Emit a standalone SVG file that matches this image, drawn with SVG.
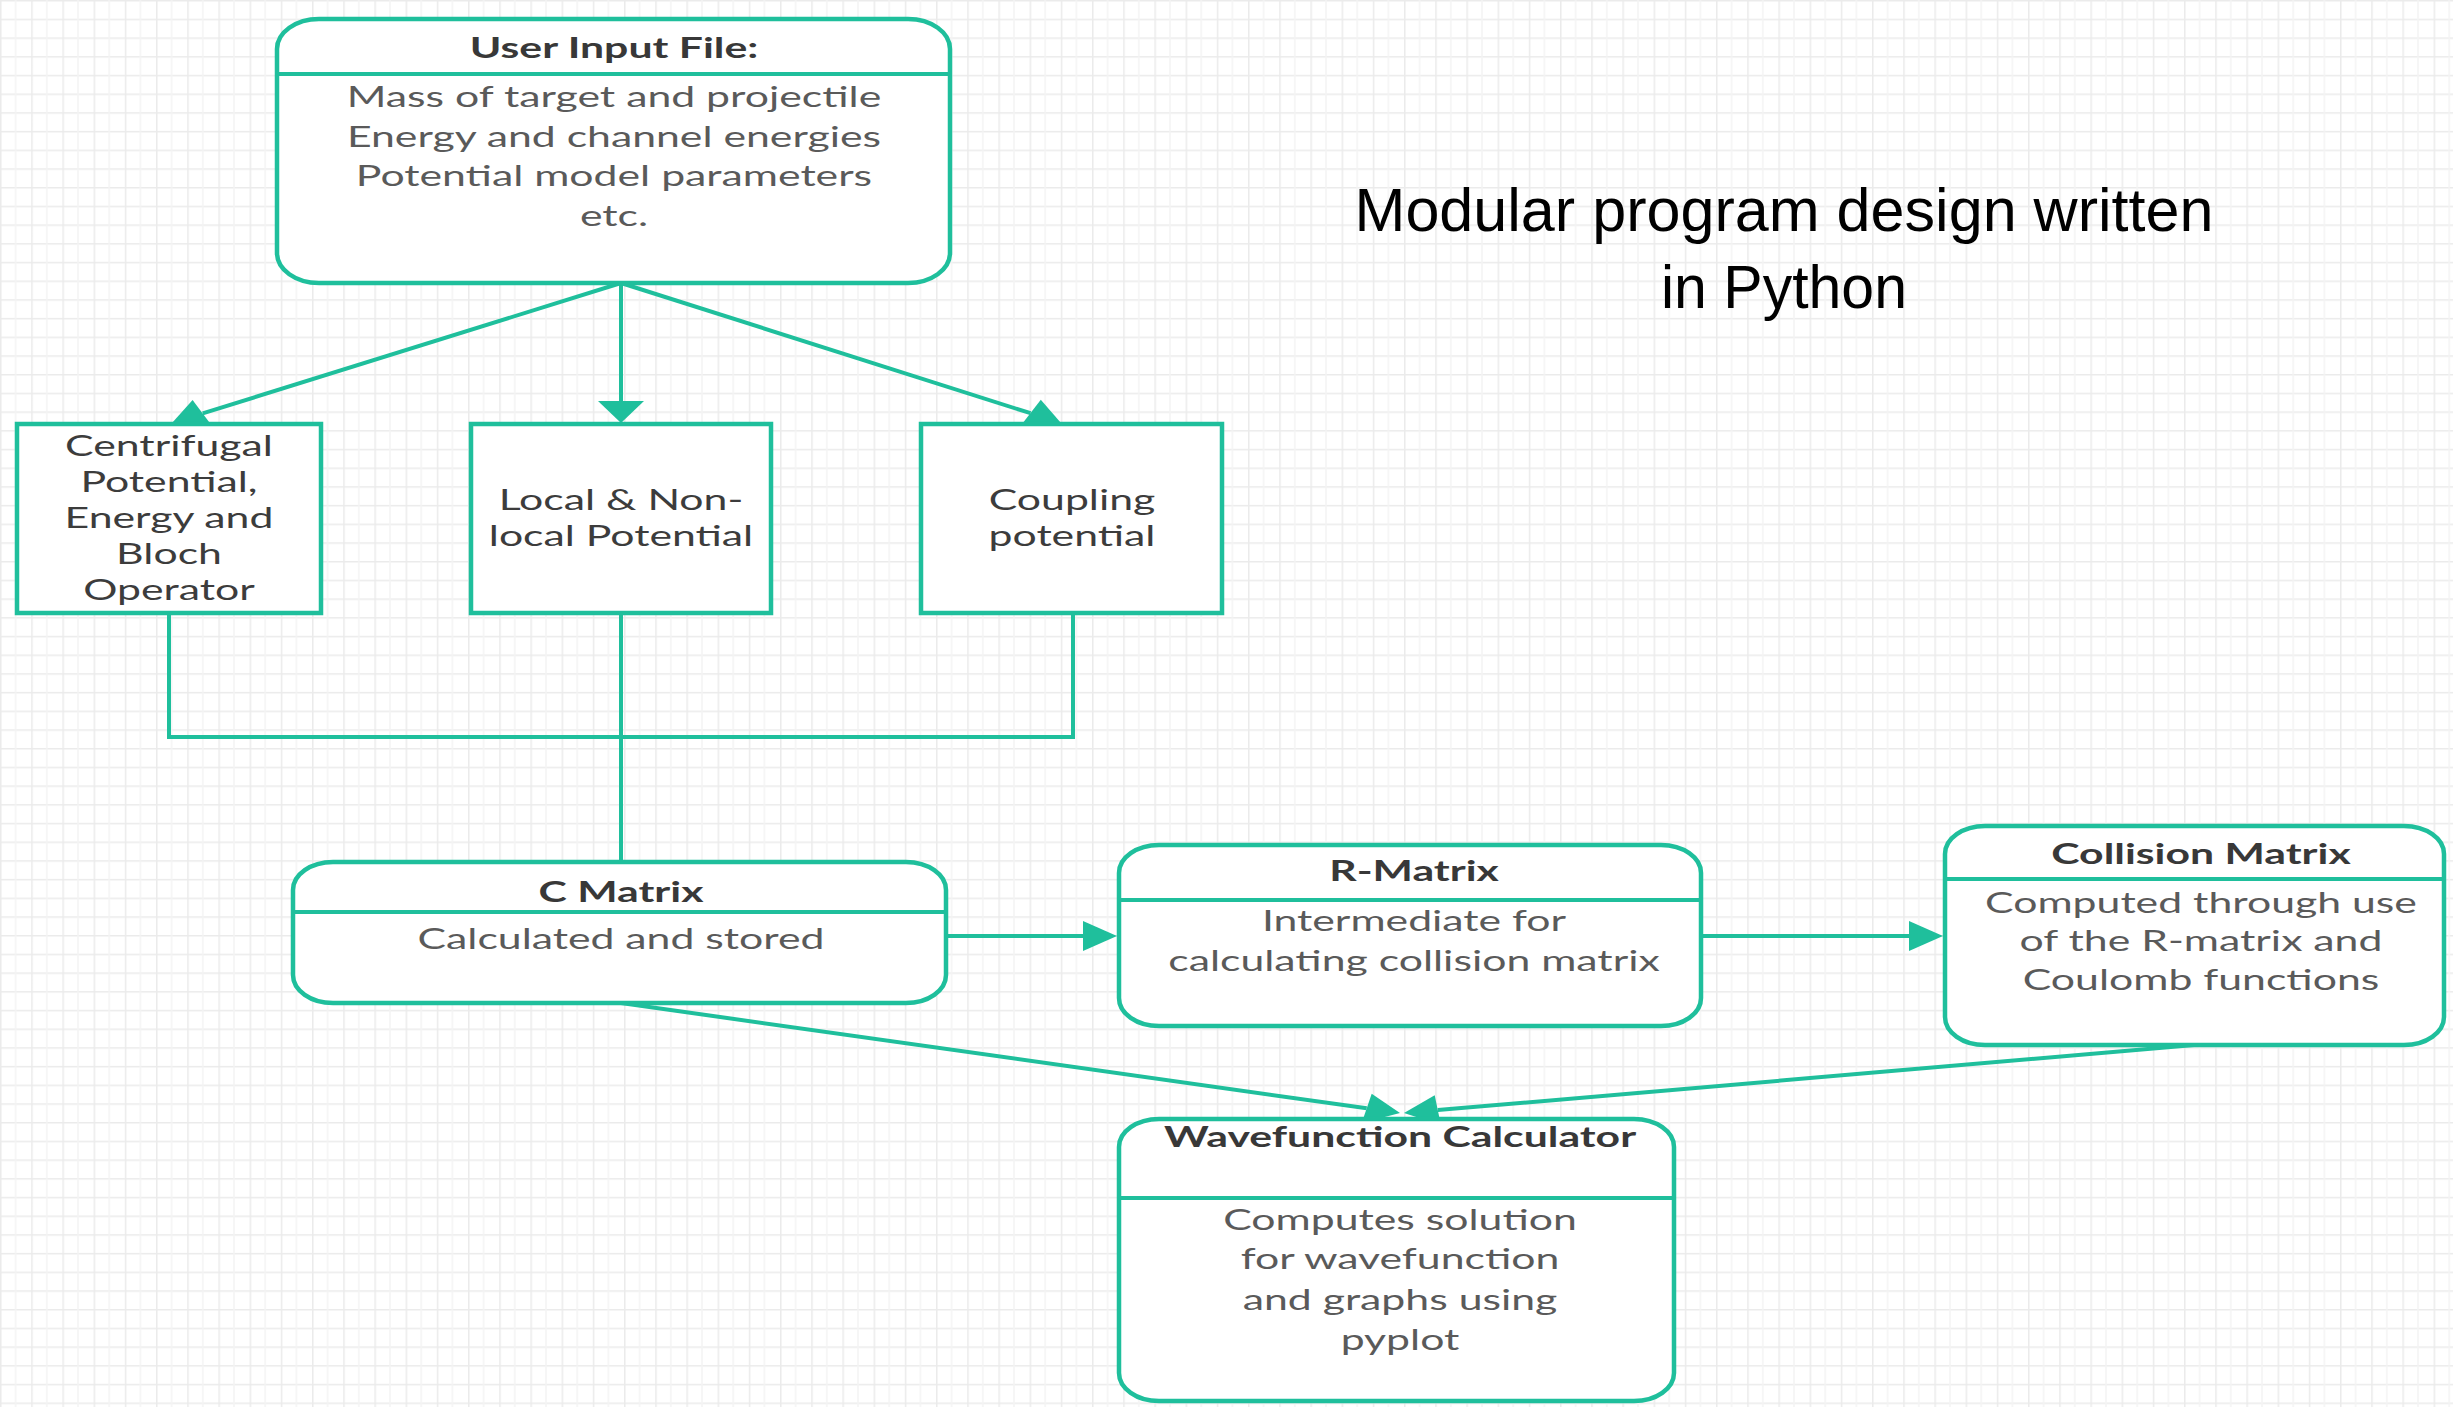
<svg xmlns="http://www.w3.org/2000/svg" width="2453" height="1407" viewBox="0 0 2453 1407">
<defs>
<pattern id="grid" width="31.2" height="18.7" patternUnits="userSpaceOnUse">
<rect width="31.2" height="18.7" fill="#ffffff"/>
<path d="M0 0.5H31.2M0.5 0V18.7" stroke="#ebebeb" stroke-width="2" fill="none"/>
<path d="M15.6 0V18.7" stroke="#f4f4f4" stroke-width="1.5" fill="none"/>
</pattern>
<style>
.box{fill:#ffffff;stroke:#1fbf9c;stroke-width:4.5}
.div{stroke:#1fbf9c;stroke-width:4}
.ln{stroke:#1fbf9c;stroke-width:4;fill:none}
.ah{fill:#1fbf9c;stroke:none}
.t{font-family:Lato,"Open Sans","DejaVu Sans",sans-serif;font-size:28.5px;text-anchor:middle}
.ttl{font-weight:700;fill:#383838}
.body{fill:#5a5a5a}
.dark{fill:#3c3c3c}
.head{font-family:"Liberation Sans",Arial,sans-serif;font-size:61px;fill:#000000;text-anchor:middle}
</style>
</defs>
<rect width="2453" height="1407" fill="url(#grid)"/>

<g id="connectors">
<line class="ln" x1="621" y1="283" x2="202.7" y2="413.4"/>
<polygon class="ah" points="172,423 192.6,399.9 212.8,426.9"/>
<line class="ln" x1="621" y1="283" x2="621" y2="402"/>
<polygon class="ah" points="621,423 598,401 644,401"/>
<line class="ln" x1="621" y1="283" x2="1030.5" y2="413.2"/>
<polygon class="ah" points="1061,423 1020.1,426.6 1040.8,399.8"/>
<polyline class="ln" points="169,613 169,737 1073,737 1073,613"/>
<line class="ln" x1="621" y1="613" x2="621" y2="862"/>
<line class="ln" x1="946" y1="936" x2="1085" y2="936"/>
<polygon class="ah" points="1117,936 1083,921 1083,951"/>
<line class="ln" x1="1701" y1="936" x2="1911" y2="936"/>
<polygon class="ah" points="1943,936 1909,921 1909,951"/>
<line class="ln" x1="621" y1="1003" x2="1366.7" y2="1108.3"/>
<polygon class="ah" points="1400,1113 1361.7,1123 1371.7,1093.7"/>
<line class="ln" x1="2194" y1="1045" x2="1437.8" y2="1110.1"/>
<polygon class="ah" points="1404,1113 1434.7,1095.2 1440.9,1125"/>
</g>

<g id="user-input">
<rect class="box" x="277" y="19" width="673" height="264" rx="42" ry="30"/>
<line class="div" x1="279" y1="74" x2="948" y2="74"/>
<text class="t ttl" transform="translate(614,0) scale(1.5,1)"><tspan x="0" y="58">User Input File:</tspan></text>
<text class="t body" transform="translate(614,0) scale(1.5,1)"><tspan x="0" y="107">Mass of target and projectile</tspan><tspan x="0" y="147">Energy and channel energies</tspan><tspan x="0" y="186">Potential model parameters</tspan><tspan x="0" y="226">etc.</tspan></text>
</g>

<g id="centrifugal">
<rect class="box" x="17" y="424" width="304" height="189"/>
<text class="t dark" transform="translate(169,0) scale(1.5,1)"><tspan x="0" y="456">Centrifugal</tspan><tspan x="0" y="492">Potential,</tspan><tspan x="0" y="528">Energy and</tspan><tspan x="0" y="564">Bloch</tspan><tspan x="0" y="600">Operator</tspan></text>
</g>

<g id="local">
<rect class="box" x="471" y="424" width="300" height="189"/>
<text class="t dark" transform="translate(621,0) scale(1.5,1)"><tspan x="0" y="510">Local &amp; Non-</tspan><tspan x="0" y="546">local Potential</tspan></text>
</g>

<g id="coupling">
<rect class="box" x="921" y="424" width="301" height="189"/>
<text class="t dark" transform="translate(1072,0) scale(1.5,1)"><tspan x="0" y="510">Coupling</tspan><tspan x="0" y="546">potential</tspan></text>
</g>

<g id="c-matrix">
<rect class="box" x="293" y="862" width="653" height="141" rx="40" ry="28"/>
<line class="div" x1="295" y1="912" x2="944" y2="912"/>
<text class="t ttl" transform="translate(621,0) scale(1.5,1)"><tspan x="0" y="902">C Matrix</tspan></text>
<text class="t body" transform="translate(621,0) scale(1.5,1)"><tspan x="0" y="949">Calculated and stored</tspan></text>
</g>

<g id="r-matrix">
<rect class="box" x="1119" y="845" width="582" height="181" rx="40" ry="28"/>
<line class="div" x1="1121" y1="900" x2="1699" y2="900"/>
<text class="t ttl" transform="translate(1414,0) scale(1.5,1)"><tspan x="0" y="881">R-Matrix</tspan></text>
<text class="t body" transform="translate(1414,0) scale(1.5,1)"><tspan x="0" y="931">Intermediate for</tspan><tspan x="0" y="971">calculating collision matrix</tspan></text>
</g>

<g id="collision-matrix">
<rect class="box" x="1945" y="826" width="499" height="219" rx="40" ry="28"/>
<line class="div" x1="1947" y1="879" x2="2442" y2="879"/>
<text class="t ttl" transform="translate(2201,0) scale(1.5,1)"><tspan x="0" y="864">Collision Matrix</tspan></text>
<text class="t body" transform="translate(2201,0) scale(1.5,1)"><tspan x="0" y="913">Computed through use</tspan><tspan x="0" y="951">of the R-matrix and</tspan><tspan x="0" y="990">Coulomb functions</tspan></text>
</g>

<g id="wavefunction">
<rect class="box" x="1119" y="1119" width="555" height="282" rx="40" ry="28"/>
<line class="div" x1="1121" y1="1198" x2="1672" y2="1198"/>
<text class="t ttl" transform="translate(1400,0) scale(1.5,1)"><tspan x="0" y="1147">Wavefunction Calculator</tspan></text>
<text class="t body" transform="translate(1400,0) scale(1.5,1)"><tspan x="0" y="1230">Computes solution</tspan><tspan x="0" y="1269">for wavefunction</tspan><tspan x="0" y="1310">and graphs using</tspan><tspan x="0" y="1350">pyplot</tspan></text>
</g>

<g id="heading">
<text class="head" x="1784" y="231" textLength="859" lengthAdjust="spacingAndGlyphs">Modular program design written</text>
<text class="head" x="1784" y="308" textLength="246" lengthAdjust="spacingAndGlyphs">in Python</text>
</g>
</svg>
